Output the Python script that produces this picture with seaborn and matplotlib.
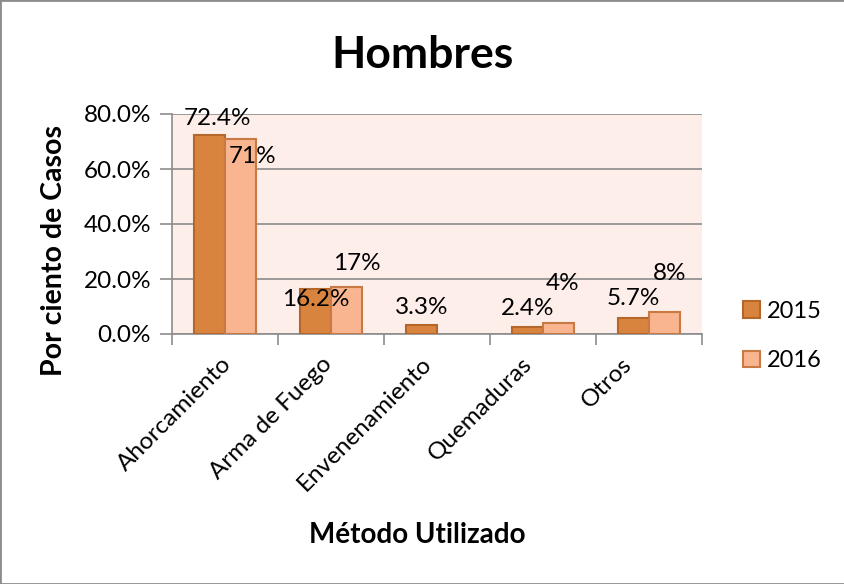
import pandas as pd
import numpy as np
import seaborn as sns
import matplotlib.pyplot as plt
import matplotlib.transforms as mtransforms
from matplotlib.patches import Rectangle

# Data
metodos = ["Ahorcamiento", "Arma de Fuego", "Envenenamiento", "Quemaduras", "Otros"]
anios = ["2015", "2016"]
valores_2015 = [72.4, 16.2, 3.3, 2.4, 5.7]
valores_2016 = [71, 17, np.nan, 4, 8]

df = pd.DataFrame({
    "Metodo": metodos * 2,
    "Anio": ["2015"] * len(metodos) + ["2016"] * len(metodos),
    "Porcentaje": valores_2015 + valores_2016,
})

# label offsets in pixels (dx, dy up) from the top centre of each bar, as in the picture
offsets = {
    "2015": [(8, 16), (0, -10), (0, 17), (0, 19), (0, 20)],
    "2016": [(12, -18), (10, 24), (0, 0), (4, 40), (5, 38)],
}
formatos = {"2015": "{:.1f}%", "2016": "{:g}%"}

sns.set_theme(style="white")
plt.rcParams["font.family"] = ["Lato", "DejaVu Sans"]
plt.rcParams.update({"text.color": "black", "xtick.color": "black",
                     "ytick.color": "black", "axes.labelcolor": "black"})

relleno = {"2015": "#D9843E", "2016": "#F9B58F"}
borde = {"2015": "#B5662A", "2016": "#C97A44"}
gris = "#8C8C8C"
fs = 17.5

fig = plt.figure(figsize=(8.45, 5.84), dpi=100)
ax = fig.add_axes([172 / 845, 1 - 334 / 584, 530 / 845, 220 / 584])
ax.set_facecolor("#FDEEE9")

sns.barplot(data=df, x="Metodo", y="Porcentaje", hue="Anio", order=metodos,
            hue_order=anios, palette=relleno, width=0.58, gap=0,
            saturation=1, legend=False, ax=ax, zorder=3)

for cont, anio in zip(ax.containers, anios):
    for p in cont.patches:
        h = p.get_height()
        if not np.isfinite(h):
            continue
        p.set_edgecolor(borde[anio])
        p.set_linewidth(1.5)
        xc = p.get_x() + p.get_width() / 2
        i = int(round(xc))
        dx, dy = offsets[anio][i]
        ax.annotate(formatos[anio].format(h), (xc, h), xytext=(dx, dy),
                    textcoords="offset pixels", ha="center", va="center",
                    fontsize=fs, color="black", zorder=5)

ax.set_xlim(-0.5, 4.5)
ax.set_ylim(0, 80)
ax.set_yticks(np.arange(0, 81, 20))
ax.set_yticklabels([f"{v:.1f}%" for v in np.arange(0, 81, 20)], fontsize=fs)
ax.yaxis.grid(True, color=gris, lw=1.2, zorder=0)
ax.set_axisbelow(True)
ax.tick_params(axis="y", length=9, width=1.2, color=gris, pad=6, left=True)

ax.set_xticks(range(len(metodos)))
ax.set_xticklabels(metodos, rotation=45, ha="right", rotation_mode="anchor",
                   fontsize=fs)
ax.set_xticks(np.arange(-0.5, 5, 1), minor=True)
ax.tick_params(axis="x", which="major", length=0, pad=14)
ax.tick_params(axis="x", which="minor", length=8, width=1.2, color=gris,
               bottom=True, direction="out")
# the category labels drift a little to the left, one after another
for i, lab in enumerate(ax.get_xticklabels()):
    lab.set_transform(lab.get_transform() + mtransforms.ScaledTranslation(
        -(4 + 6 * i) / 100, 0, fig.dpi_scale_trans))

for s in ["top", "right"]:
    ax.spines[s].set_visible(False)
for s in ["left", "bottom"]:
    ax.spines[s].set_color(gris)
    ax.spines[s].set_linewidth(1.2)

ax.set_xlabel("")
ax.set_ylabel("")
fig.text(423 / 845, 1 - 55 / 584, "Hombres", fontsize=32, fontweight="bold",
         ha="center", va="center")
fig.text(54 / 845, 1 - 250 / 584, "Por ciento de Casos", fontsize=20.5,
         fontweight="bold", rotation=90, ha="center", va="center")
fig.text(417 / 845, 1 - 535 / 584, "Método Utilizado", fontsize=20,
         fontweight="bold", ha="center", va="center")

handles = [Rectangle((0, 0), 1, 1, facecolor=relleno[a], edgecolor=borde[a],
                     lw=1.5) for a in anios]
fig.legend(handles, anios, loc="center left",
           bbox_to_anchor=(722 / 845, 1 - 336 / 584), frameon=False,
           fontsize=17, handlelength=0.7, handleheight=0.7, handletextpad=0.3,
           labelspacing=1.2)

fig.patches.append(Rectangle((0, 0), 1, 1, transform=fig.transFigure,
                             fill=False, edgecolor=gris, lw=2))

fig.savefig("out.png", dpi=100)
